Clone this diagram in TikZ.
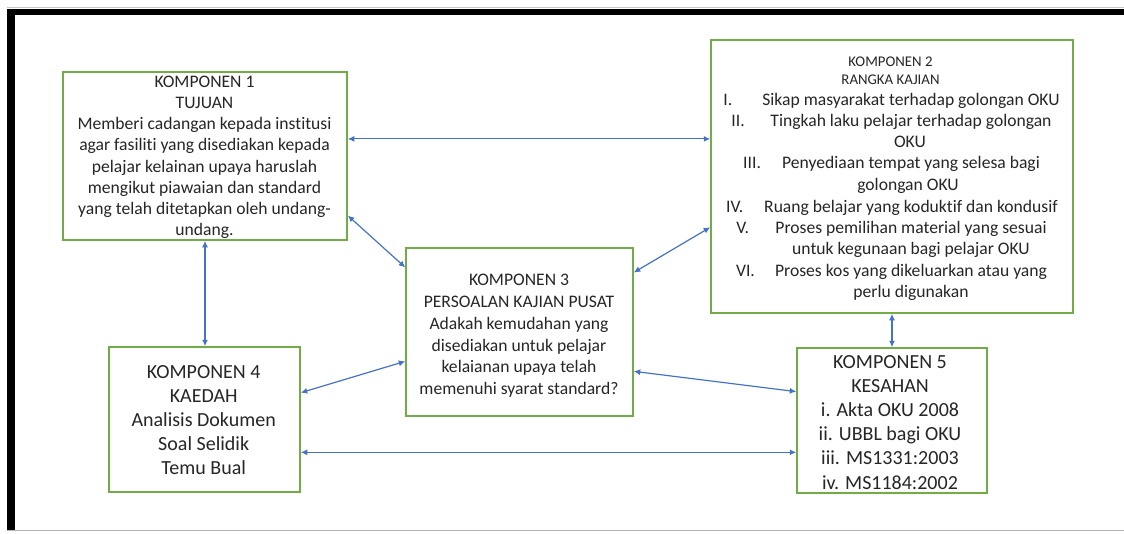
\documentclass[tikz,border=0pt]{standalone}
\usepackage{fontspec}
\setmainfont{Carlito}[Ligatures={NoCommon,NoRare}]
\usetikzlibrary{arrows.meta,calc}
\definecolor{boxgreen}{HTML}{70AD47}
\definecolor{arrowblue}{HTML}{4472C4}
\definecolor{txtc}{HTML}{262626}
\begin{document}
\begin{tikzpicture}[x=1pt,y=-1pt,
  box/.style={draw=boxgreen,line width=1.5pt,inner sep=0pt,fill=white},
  conn/.style={draw=arrowblue,line width=1.2pt,{Latex[length=6.5pt,width=6pt]}-{Latex[length=6.5pt,width=6pt]}},
  txt/.style={text=txtc,inner sep=0pt,anchor=base,align=center},
  fa/.style={font=\fontsize{17.6}{21.2}\selectfont},
  fb/.style={font=\fontsize{20}{24.1}\selectfont},
  fh/.style={font=\fontsize{14.8}{18}\selectfont}]
\useasboundingbox (0,0) rectangle (1124,533);
% frame
\fill[white] (0,0) rectangle (1124,533);
\draw[gray!45,line width=0.8pt] (7,7.5) -- (1124,7.5);
\fill[black] (7,9) rectangle (1124,15);
\fill[black] (7,9) rectangle (15,531);
\draw[gray!60,line width=1.5pt] (7,530.5) -- (1124,530.5);
% boxes
\node[box,minimum width=284pt,minimum height=168pt] (k1) at (205,156) {};
\node[box,minimum width=362pt,minimum height=273pt] (k2) at (892,176.5) {};
\node[box,minimum width=227pt,minimum height=168pt] (k3) at (519.5,332) {};
\node[box,minimum width=191pt,minimum height=145pt] (k4) at (204.5,419.5) {};
\node[box,minimum width=190pt,minimum height=145pt] (k5) at (892,420.5) {};
% texts (base anchor = baseline of the last line)
\node[txt,fa] (t1) at (204.5,235.7) {KOMPONEN 1\\TUJUAN\\Memberi cadangan kepada institusi\\agar fasiliti yang disediakan kepada\\pelajar kelainan upaya haruslah\\mengikut piawaian dan standard\\yang telah ditetapkan oleh undang-\\undang.};
\node[txt,fh] (h2) at (890.5,84.8) {KOMPONEN 2\\RANGKA KAJIAN};
\node[txt,fa] (l1) at (911,105.5) {Sikap masyarakat terhadap golongan OKU};
\node[txt,fa] (l2) at (911,126.5) {Tingkah laku pelajar terhadap golongan};
\node[txt,fa] (l3) at (910,147.5) {OKU};
\node[txt,fa] (l4) at (911,168.5) {Penyediaan tempat yang selesa bagi};
\node[txt,fa] (l5) at (908,190.5) {golongan OKU};
\node[txt,fa] (l6) at (911,212.5) {Ruang belajar yang koduktif dan kondusif};
\node[txt,fa] (l7) at (911,233.5) {Proses pemilihan material yang sesuai};
\node[txt,fa] (l8) at (911,254.5) {untuk kegunaan bagi pelajar OKU};
\node[txt,fa] (l9) at (911,276.5) {Proses kos yang dikeluarkan atau yang};
\node[txt,fa] (l10) at (911,297.5) {perlu digunakan};
\node[txt,fa,anchor=base west] (n1) at ($(l1.base west)+(-39,0)$) {I.};
\node[txt,fa,anchor=base west] (n2) at ($(l2.base west)+(-39,0)$) {II.};
\node[txt,fa,anchor=base west] (n3) at ($(l4.base west)+(-39,0)$) {III.};
\node[txt,fa,anchor=base west] (n4) at ($(l6.base west)+(-38,0)$) {IV.};
\node[txt,fa,anchor=base west] (n5) at ($(l7.base west)+(-39,0)$) {V.};
\node[txt,fa,anchor=base west] (n6) at ($(l9.base west)+(-39,0)$) {VI.};
\node[txt,font=\fontsize{17.6}{21.8}\selectfont] (t3) at (519,394.6) {KOMPONEN 3\\PERSOALAN KAJIAN PUSAT\\Adakah kemudahan yang\\disediakan untuk pelajar\\kelaianan upaya telah\\memenuhi syarat standard?};
\node[txt,fb] (t4) at (203.7,474.6) {KOMPONEN 4\\KAEDAH\\Analisis Dokumen\\Soal Selidik\\Temu Bual};
\node[txt,font=\fontsize{20}{24.2}\selectfont] (t5) at (890,489.1) {KOMPONEN 5\\KESAHAN\\i. Akta OKU 2008\\ii. UBBL bagi OKU\\iii. MS1331:2003\\iv. MS1184:2002};
% connectors
\coordinate (a1) at ($(k1.north east)!0.399!(k1.south east)$);
\draw[conn] (a1) -- (a1 -| k2.west);
\draw[conn] ($(k1.north east)!0.851!(k1.south east)$) -- ($(k3.north west)!0.119!(k3.south west)$);
\draw[conn] ($(k2.north west)!0.685!(k2.south west)$) -- ($(k3.north east)!0.149!(k3.south east)$);
\draw[conn] (k1.south) -- (k1.south |- k4.north);
\draw[conn] ($(k3.north west)!0.673!(k3.south west)$) -- ($(k4.north east)!0.317!(k4.south east)$);
\draw[conn] ($(k3.north east)!0.732!(k3.south east)$) -- ($(k5.north west)!0.303!(k5.south west)$);
\coordinate (a7) at ($(k4.north east)!0.724!(k4.south east)$);
\draw[conn] (a7) -- (a7 -| k5.west);
\draw[conn] (k2.south) -- (k5.north);
\end{tikzpicture}
\end{document}
